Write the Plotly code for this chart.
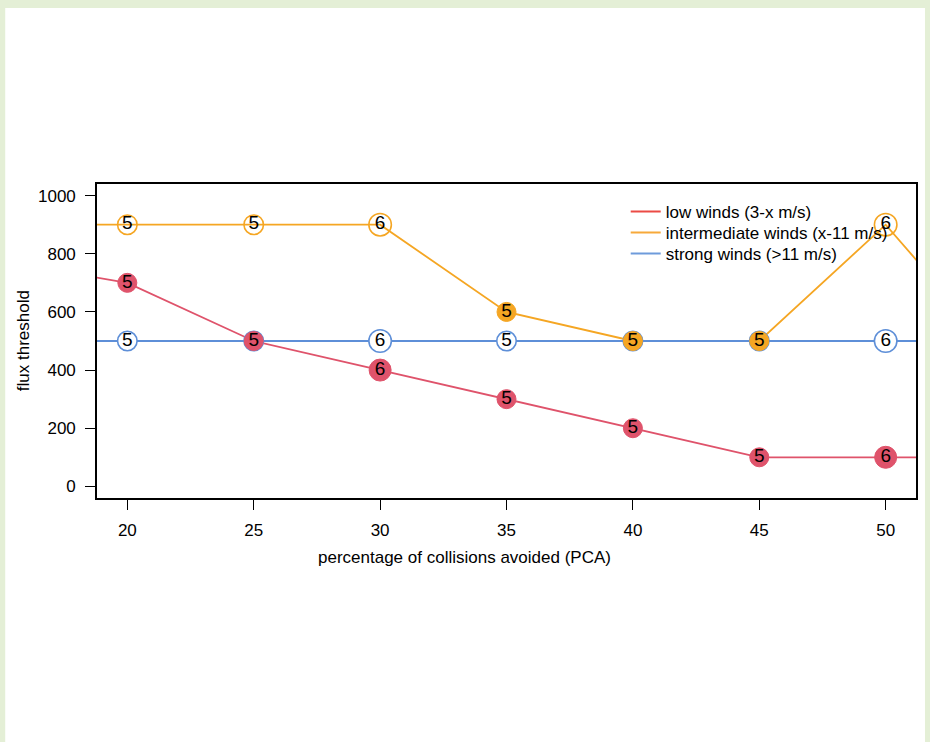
import plotly.graph_objects as go

# ---- data ----
pca = [20, 25, 30, 35, 40, 45, 50]
low_wind = [700, 500, 400, 300, 200, 100, 100]
mid_wind = [900, 900, 900, 600, 500, 500, 900]
strong_wind = [500, 500, 500, 500, 500, 500, 500]

n_low = [5, 5, 6, 5, 5, 5, 6]
n_mid = [5, 5, 6, 5, 5, 5, 6]
n_strong = [5, 5, 6, 5, 5, 5, 6]

filled_low = [True, True, True, True, True, True, True]
filled_mid = [False, False, False, True, True, True, False]
filled_strong = [False, False, False, False, False, False, False]

# lines continue beyond the visible PCA range
pca_left, pca_right = 15, 55
low_left, low_right = 775, 100
mid_left, mid_right = 900, 400
strong_left, strong_right = 500, 500

x_ticks = [20, 25, 30, 35, 40, 45, 50]
y_ticks = [0, 200, 400, 600, 800, 1000]

names = ["low winds (3-x m/s)", "intermediate winds (x-11 m/s)", "strong winds (>11 m/s)"]

# ---- styles ----
FONT = "Liberation Sans, Arial, sans-serif"
RED, ORANGE, BLUE = "#DF536B", "#F5A623", "#5E8FD8"
LEG_COLORS = ["#EB4B45", "#F7A93A", "#6E9BDB"]
size_map = {5: 19, 6: 22}

fig = go.Figure()

# lines first
for xs, ys, col in [
    ([pca_left] + pca + [pca_right], [low_left] + low_wind + [low_right], RED),
    ([pca_left] + pca + [pca_right], [mid_left] + mid_wind + [mid_right], ORANGE),
    ([pca_left] + pca + [pca_right], [strong_left] + strong_wind + [strong_right], BLUE),
]:
    fig.add_trace(go.Scatter(x=xs, y=ys, mode="lines", line=dict(color=col, width=1.8),
                             showlegend=False, hoverinfo="skip"))


def marker_trace(ys, counts, filled, col, hollow_fill, lw):
    return go.Scatter(
        x=pca, y=ys, mode="markers+text",
        text=[str(c) for c in counts], textposition="middle center",
        textfont=dict(family=FONT, size=19, color="black"),
        marker=dict(symbol="circle", opacity=1,
                    size=[size_map[c] + (0.5 if not f else 0) for c, f in zip(counts, filled)],
                    color=[col if f else hollow_fill for f in filled],
                    line=dict(color=col, width=[1 if f else lw for f in filled])),
        showlegend=False, hoverinfo="skip")


# blue markers (white inside) below the others
fig.add_trace(marker_trace(strong_wind, n_strong, filled_strong, BLUE, "white", 1.6))
fig.add_trace(marker_trace(low_wind, n_low, filled_low, RED, "rgba(0,0,0,0)", 1.6))
fig.add_trace(marker_trace(mid_wind, n_mid, filled_mid, ORANGE, "rgba(0,0,0,0)", 1.6))

L, R, T, B = 97, 12, 184, 244
W, H = 930, 742
pw, ph = W - L - R, H - T - B

# legend entries, one legend per row for exact row spacing
legend_ids = ["legend", "legend2", "legend3"]
row_centers = [212, 233, 254]
for nm, c, lid in zip(names, LEG_COLORS, legend_ids):
    fig.add_trace(go.Scatter(x=[None], y=[None], mode="lines", name=nm, legend=lid,
                             line=dict(color=c, width=2)))

legend_layout = {}
for lid, yc in zip(legend_ids, row_centers):
    legend_layout[lid] = dict(x=(627 - L) / pw, y=(H - B - (yc - 18)) / ph,
                              xanchor="left", yanchor="top",
                              bgcolor="rgba(0,0,0,0)", borderwidth=0,
                              font=dict(family=FONT, size=17, color="black"),
                              itemwidth=30)

fig.update_layout(
    width=W, height=H,
    margin=dict(l=L, r=R, t=T, b=B, pad=0),
    paper_bgcolor="#E4EFD6",
    plot_bgcolor="white",
    font=dict(family=FONT, size=17, color="black"),
    showlegend=True,
    shapes=[dict(type="rect", xref="paper", yref="paper",
                 x0=(5 - L) / pw, x1=(927 - L) / pw,
                 y0=(H - B - 742) / ph, y1=(H - B - 8) / ph,
                 fillcolor="white", line=dict(width=0), layer="below")],
    annotations=[
        dict(text="percentage of collisions avoided (PCA)", xref="paper", yref="paper",
             x=(465 - L) / pw, y=(H - B - 557) / ph, xanchor="center", yanchor="middle",
             showarrow=False, font=dict(family=FONT, size=17, color="black")),
        dict(text="flux threshold", xref="paper", yref="paper", textangle=-90,
             x=(23 - L) / pw, y=(H - B - 341) / ph, xanchor="center", yanchor="middle",
             showarrow=False, font=dict(family=FONT, size=17, color="black")),
    ],
    **legend_layout,
)

fig.update_xaxes(range=[18.8, 51.2], tickvals=x_ticks, ticktext=[str(v) for v in x_ticks],
                 ticks="outside", ticklen=10, tickwidth=1.3, tickcolor="black",
                 showline=True, mirror=True, linecolor="black", linewidth=1.6,
                 showgrid=False, zeroline=False, ticklabelstandoff=6,
                 tickfont=dict(family=FONT, size=17, color="black"))
fig.update_yaxes(range=[-40, 1040], tickvals=y_ticks, ticktext=[str(v) for v in y_ticks],
                 ticks="outside", ticklen=10, tickwidth=1.3, tickcolor="black",
                 showline=True, mirror=True, linecolor="black", linewidth=1.6,
                 showgrid=False, zeroline=False, ticklabelstandoff=6,
                 tickfont=dict(family=FONT, size=17, color="black"))

fig.write_html("out.html")
